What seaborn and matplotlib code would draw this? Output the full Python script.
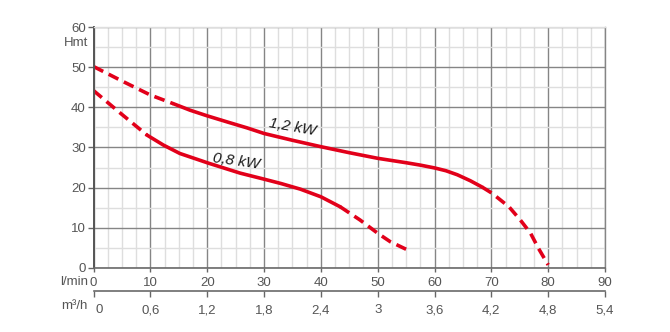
import matplotlib
matplotlib.use("Agg")
import matplotlib.pyplot as plt
import matplotlib.ticker as mticker
import matplotlib.transforms as mtransforms
import pandas as pd
import seaborn as sns

# Pump performance curves: flow (l/min) against head (Hmt)
flow_12kw = [0, 5, 10, 14.1, 17, 20, 23.7, 27, 30, 35, 40, 45, 50, 55, 57.5, 60,
             62, 64, 66.3, 68.4, 70.1, 73.1, 75.1, 76.9, 78.3, 80]
head_12kw = [50.2, 46.6, 43.1, 40.9, 39.3, 37.9, 36.3, 34.9, 33.5, 31.8, 30.2, 28.7,
             27.3, 26.2, 25.6, 24.9, 24.2, 23.2, 21.7, 20.1, 18.6, 15.2, 11.9, 8.6, 4.8, 0.7]
solid_12kw = (14.1, 68.4)        # range drawn as a solid line, dashed outside

flow_08kw = [0, 4.7, 9.4, 12.3, 15.2, 20.2, 25.8, 30, 33, 36.4, 40, 43.4, 46.9, 50,
             52.2, 55]
head_08kw = [44.2, 38.6, 33.1, 30.6, 28.5, 26.1, 23.6, 22.1, 21.0, 19.6, 17.7, 15.2,
             11.9, 8.6, 6.5, 4.6]
solid_08kw = (9.4, 43.4)

curve_names = ["1,2 kW", "0,8 kW"]
label_pos = [(35.0, 35.1), (25.1, 26.5)]
label_rot = [-10, -8]

lmin_ticks = [0, 10, 20, 30, 40, 50, 60, 70, 80, 90]
m3h_ticks = [0, 0.6, 1.2, 1.8, 2.4, 3, 3.6, 4.2, 4.8, 5.4]
hmt_ticks = [0, 10, 20, 30, 40, 50, 60]

RED = "#e2001a"
TXT = "#555555"


def split_curve(name, flow, head, solid):
    """Split one curve into dashed / solid / dashed pieces sharing their end points."""
    lo, hi = solid
    pieces = [
        ("dashed", [(f, h) for f, h in zip(flow, head) if f <= lo]),
        ("solid", [(f, h) for f, h in zip(flow, head) if lo <= f <= hi]),
        ("dashed", [(f, h) for f, h in zip(flow, head) if f >= hi]),
    ]
    rows = []
    for i, (part, pts) in enumerate(pieces):
        for f, h in pts:
            rows.append({"flow": f, "head": h, "part": part, "seg": f"{name}-{i}"})
    return rows


df = pd.DataFrame(
    split_curve(curve_names[0], flow_12kw, head_12kw, solid_12kw)
    + split_curve(curve_names[1], flow_08kw, head_08kw, solid_08kw)
)

sns.set_style("white")
plt.rcParams["font.family"] = ["Liberation Sans", "DejaVu Sans"]

fig = plt.figure(figsize=(6.7, 3.32), dpi=100)
ax = fig.add_axes([0.1396, 0.1937, 0.7634, 0.7241])

sns.lineplot(
    data=df, x="flow", y="head", units="seg", style="part",
    dashes={"solid": "", "dashed": (3.0, 1.7)},
    color=RED, linewidth=2.6, estimator=None, sort=False, legend=False, ax=ax,
)
for line in ax.lines:
    line.set_solid_joinstyle("round")

ax.set_xlim(0, 90)
ax.set_ylim(0, 60)
ax.set_xlabel("")
ax.set_ylabel("")

ax.set_xticks(lmin_ticks)
ax.set_yticks(hmt_ticks)
ax.xaxis.set_minor_locator(mticker.MultipleLocator(2.5))
ax.yaxis.set_minor_locator(mticker.MultipleLocator(5))
ax.set_axisbelow(True)
ax.grid(which="major", color="#858585", linewidth=1.0)
ax.grid(which="minor", color="#dedede", linewidth=1.0)

for side, col, lw in [("left", "#555555", 1.4), ("bottom", "#6a6a6a", 1.2),
                      ("right", "#858585", 1.0), ("top", "#dedede", 1.0)]:
    ax.spines[side].set_visible(True)
    ax.spines[side].set_color(col)
    ax.spines[side].set_linewidth(lw)

ax.tick_params(axis="y", which="major", direction="out", length=4, width=1,
               color="#666666", labelcolor=TXT, labelsize=9.5, pad=1.5, left=True)
ax.tick_params(axis="x", which="major", direction="out", length=3, width=1,
               color="#666666", labelcolor=TXT, labelsize=9.5, pad=3.5, bottom=True)
ax.tick_params(which="minor", length=0)

# second flow scale in m³/h
secax = ax.secondary_xaxis(-0.097, functions=(lambda q: q * 6 / 100, lambda m: m * 100 / 6))
secax.set_xticks(m3h_ticks)
secax.xaxis.set_major_formatter(
    mticker.FuncFormatter(lambda v, _: f"{v:g}".replace(".", ",")))
secax.spines["bottom"].set_color("#6a6a6a")
secax.spines["bottom"].set_linewidth(1.2)
secax.tick_params(direction="out", length=4, width=1, color="#666666",
                  labelcolor=TXT, labelsize=9.5, pad=5.5)
first = secax.xaxis.get_major_ticks()[0].label1
first.set_transform(first.get_transform()
                    + mtransforms.ScaledTranslation(6 / 100, 0, fig.dpi_scale_trans))

# unit labels
fig.text(0.1313, 0.8696, "Hmt", ha="right", va="center", color=TXT, fontsize=9.5)
fig.text(0.1313, 0.1497, "l/min", ha="right", va="center", color=TXT, fontsize=9.5)
fig.text(0.1313, 0.0783, "m³/h", ha="right", va="center", color=TXT, fontsize=9.5)

# curve labels
for name, (x, y), rot in zip(curve_names, label_pos, label_rot):
    ax.text(x, y, name, ha="center", va="center", rotation=rot, rotation_mode="anchor",
            fontsize=11, fontstyle="italic", color="#1a1a1a")

fig.savefig("out.png", dpi=100)
